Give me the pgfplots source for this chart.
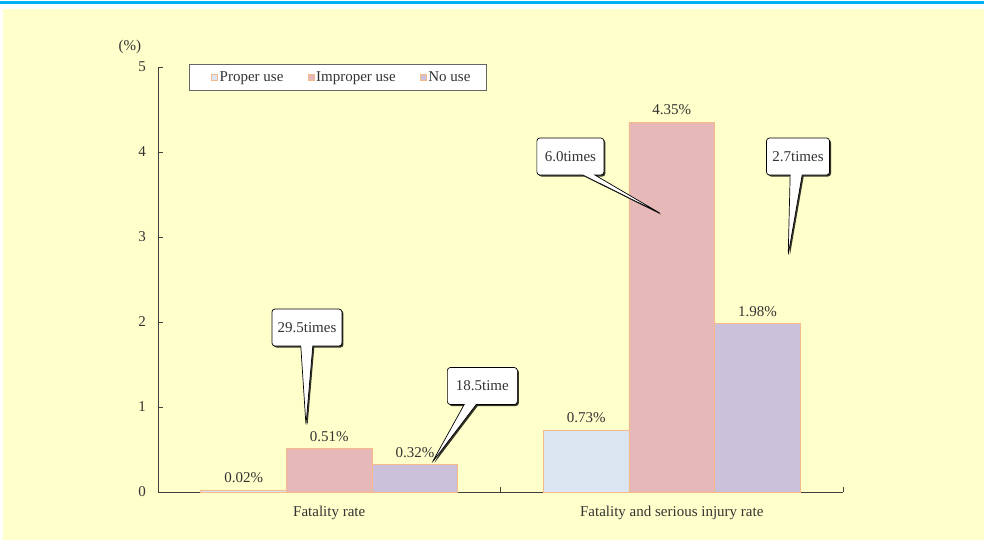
\documentclass[border=0pt]{standalone}
\usepackage{pgfplots}
\pgfplotsset{compat=1.18}
\usepackage{fontspec}
\setmainfont{Liberation Serif}
\usetikzlibrary{shapes.callouts,shadows}
\definecolor{bg}{HTML}{FFFFCC}
\definecolor{topblue}{HTML}{00B0F0}
\definecolor{cproper}{HTML}{DCE6F2}
\definecolor{cimproper}{HTML}{E6B9B8}
\definecolor{cnouse}{HTML}{CCC1DA}
\definecolor{cedge}{HTML}{F5B98A}
\definecolor{txt}{HTML}{333333}
\newcommand{\fs}{\fontsize{15pt}{17pt}\selectfont}
\begin{document}
\fs
\begin{tikzpicture}[x=1pt,y=1pt]
\path (0,0) rectangle (984,547);
\fill[white] (0,0) rectangle (984,547);
\fill[bg] (3,7) rectangle (984,538);
\fill[topblue] (0,543) rectangle (984,545.5);
\begin{axis}[
  at={(158pt,55pt)}, anchor=south west,
  scale only axis, width=685pt, height=425pt,
  xmin=-0.5, xmax=1.5, ymin=0, ymax=5,
  ybar, bar width=0.25,
  axis lines*=left,
  axis line style={black!75},
  every axis plot/.append style={draw=cedge, line width=0.8pt},
  xtick={0,1},
  xticklabels={Fatality rate, Fatality and serious injury rate},
  major x tick style={draw=none},
  minor xtick={0.5,1.5},
  minor tick length=5pt,
  major tick length=5pt,
  tick align=inside,
  tick style={black!75, thin},
  ytick={0,1,2,3,4,5},
  ticklabel style={font=\fs, text=txt},
  xticklabel style={yshift=-9pt},
  yticklabel style={xshift=-7pt},
  /pgf/number format/assume math mode=true,
  clip=false,
  nodes near coords={\pgfmathprintnumber[fixed,fixed zerofill,precision=2]{\pgfplotspointmeta}\%},
  every node near coord/.append style={font=\fs, text=txt, yshift=2pt},
  legend style={at={(rel axis cs:0.045,1.007)}, anchor=north west, legend columns=3,
    draw=black!60, fill=white, font=\fs, text=txt,
    inner xsep=14pt, inner ysep=5pt,
    /tikz/every even column/.append style={column sep=14pt}},
  legend image code/.code={\path (0pt,0pt); \draw[#1, line width=0.6pt] (8pt,-3pt) rectangle (14pt,3pt);},
]
\addplot[bar shift=-0.25, fill=cproper] coordinates {(0,0.02) (1,0.73)};
\addplot[bar shift=0, fill=cimproper] coordinates {(0,0.51) (1,4.35)};
\addplot[bar shift=0.25, fill=cnouse] coordinates {(0,0.32) (1,1.98)};
\legend{Proper use, Improper use, No use}

\tikzset{co/.style={rectangle callout, draw=black, fill=white, rounded corners=3pt,
  line width=0.7pt, text=txt, minimum width=70pt, minimum height=37pt, inner sep=2pt,
  callout pointer width=12pt,
  drop shadow={shadow xshift=1.5pt, shadow yshift=-1.5pt, fill=black, opacity=0.8},
  font=\fs}}
\node[co, callout absolute pointer={(axis cs:-0.068,0.79)}] at (axis cs:-0.065,1.935) {29.5times};
\node[co, callout absolute pointer={(axis cs:0.30,0.345)}] at (axis cs:0.447,1.247) {18.5time};
\node[co, minimum width=67pt, callout absolute pointer={(axis cs:0.970,3.27)}] at (axis cs:0.704,3.947) {6.0times};
\node[co, minimum width=63pt, callout absolute pointer={(axis cs:1.340,2.79)}] at (axis cs:1.3686,3.947) {2.7times};
\node[text=txt, font=\fs] at (rel axis cs:-0.041,1.047) {(\%)};
\end{axis}
\end{tikzpicture}
\end{document}
